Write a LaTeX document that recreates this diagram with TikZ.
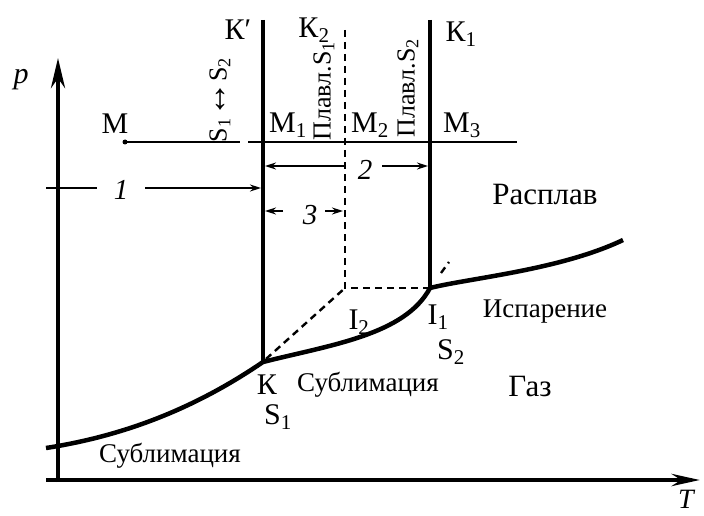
\documentclass[tikz,border=0pt]{standalone}
\usepackage{fontspec}
\setmainfont{Liberation Serif}
\usetikzlibrary{arrows.meta}
\newcommand{\sbx}[1]{\textsubscript{#1}}
\begin{document}
\begin{tikzpicture}[x=1pt,y=-1pt,
  thickline/.style={line width=4.5pt},
  axisline/.style={line width=4.5pt},
  thinline/.style={line width=1.6pt},
  dashline/.style={line width=2.4pt, dash pattern=on 7pt off 5pt},
  arr/.style={line width=1.6pt,-{Stealth[length=11pt,width=7pt]}},
  lbl/.style={inner sep=0pt, font=\fontsize{27}{30}\selectfont},
  let/.style={inner sep=0pt, font=\fontsize{30}{32}\selectfont},
  big/.style={inner sep=0pt, font=\fontsize{31}{33}\selectfont},
  num/.style={inner sep=0pt, font=\fontsize{29}{30}\selectfont\itshape},
  vlbl/.style={inner sep=0pt, rotate=90, font=\fontsize{26}{28}\selectfont}]
\useasboundingbox (0,0) rectangle (704,516);
% coordinates
\coordinate (Xl) at (46,480);
\coordinate (Pb) at (58,482);
\coordinate (Ptop) at (58,58);
\coordinate (Tend) at (700,480);
\coordinate (Kp) at (263,20);
\coordinate (K) at (263,362);
\coordinate (K2t) at (345,30);
\coordinate (C2) at (345,288);
\coordinate (K1t) at (430,20);
\coordinate (I1) at (430,288);
\coordinate (Mpt) at (125,142);
\coordinate (gapL) at (240,142);
\coordinate (gapR) at (248,142);
\coordinate (Mend) at (517,142);
\coordinate (Sl) at (46,448);
\coordinate (Send) at (623,240);
\coordinate (Kd) at (266,359);
\coordinate (md1) at (441,273);
\coordinate (md2) at (449,262);
% arrows 1,2,3 anchors
\coordinate (a1l) at (46,188);
\coordinate (a1m) at (97,188);
\coordinate (a1s) at (145,188);
\coordinate (a1e) at (261,188);
\coordinate (a2s) at (345,166);
\coordinate (a2e) at (265,166);
\coordinate (a2s2) at (382,166);
\coordinate (a2e2) at (428,166);
\coordinate (a3s) at (283,211);
\coordinate (a3e) at (265,211);
\coordinate (a3s2) at (325,211);
\coordinate (a3e2) at (343,211);
% axes
\draw[axisline,-{Stealth[length=30pt,width=14pt]}] (Pb) -- (Ptop);
\draw[axisline,-{Stealth[length=28pt,width=12pt]}] (Xl) -- (Tend);
% M line
\draw[thinline] (Mpt) -- (gapL);
\draw[thinline] (gapR) -- (Mend);
\fill (Mpt) circle (2.5pt);
% dashed lines
\draw[dashline] (K2t) -- (C2) -- (I1);
\draw[dashline] (Kd) -- (C2);
\draw[dashline] (md1) -- (md2);
% vertical phase lines
\draw[thickline] (Kp) -- (K);
\draw[thickline] (K1t) -- (I1);
% curve
\draw[thickline, line join=round] (Sl) .. controls (130,435) and (200,405) .. (K)
  .. controls (330,345) and (405,335) .. (I1)
  .. controls (470,278) and (560,270) .. (Send);
% arrows
\draw[thinline] (a1l) -- (a1m);
\draw[arr] (a1s) -- (a1e);
\draw[arr] (a2s) -- (a2e);
\draw[arr] (a2s2) -- (a2e2);
\draw[arr] (a3s) -- (a3e);
\draw[arr] (a3s2) -- (a3e2);
% labels
\node[inner sep=0pt, font=\fontsize{30}{32}\selectfont\itshape] (lp) at (21,80) {p};
\node[inner sep=0pt, font=\fontsize{28}{30}\selectfont\itshape] (lT) at (686,499) {T};
\node[let] (lKp) at (238,30) {К′};
\node[let] (lK2) at (314,30) {К\sbx{2}};
\node[let] (lK1) at (461,34) {К\sbx{1}};
\node[let] (lM) at (115,124) {M};
\node[let] (lM1) at (288,125) {M\sbx{1}};
\node[let] (lM2) at (370,125) {M\sbx{2}};
\node[let] (lM3) at (462,125) {M\sbx{3}};
\node[vlbl] (v1) at (220,100) {S\sbx{1}{\fontsize{36}{36}\selectfont ↔}S\sbx{2}};
\node[vlbl] (v2) at (324,91) {Плавл.S\sbx{1}};
\node[vlbl] (v3) at (408,88) {Плавл.S\sbx{2}};
\node[num] (n1) at (121,190) {1};
\node[num] (n2) at (365,170) {2};
\node[num] (n3) at (310,215) {3};
\node[big] (lras) at (545,195) {Расплав};
\node[lbl] (lisp) at (545,312) {Испарение};
\node[let] (lI1) at (438,317) {I\sbx{1}};
\node[let] (lS2) at (451,352) {S\sbx{2}};
\node[let] (lI2) at (359,322) {I\sbx{2}};
\node[big] (lgaz) at (530,386) {Газ};
\node[lbl] (lsub1) at (368,385) {Сублимация};
\node[let] (lK) at (267,385) {К};
\node[let] (lS1) at (278,417) {S\sbx{1}};
\node[lbl] (lsub2) at (170,456) {Сублимация};
\end{tikzpicture}
\end{document}
